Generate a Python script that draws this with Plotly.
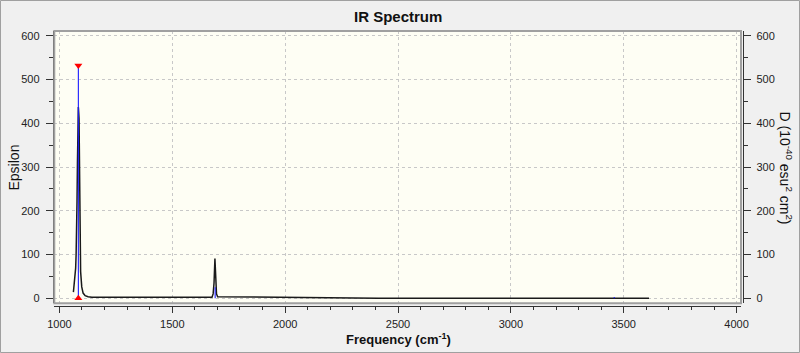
import plotly.graph_objects as go

# Broadened spectrum (epsilon)
curve_freq = [1062, 1072, 1074, 1076, 1078, 1080, 1082, 1084, 1086, 1087, 1089, 1091, 1092, 1094,
              1099, 1105, 1114, 1127, 1144, 1676, 1681, 1685, 1689, 1692, 1696, 1701,
              1948, 1950, 2410, 2413, 3612]
curve_eps = [14, 69, 100, 137, 220, 312, 380, 437, 420, 411, 330, 275, 120, 61,
             26, 12, 6, 3.5, 2.5, 2.5, 10, 35, 91, 40, 10, 3.5,
             2.8, 1.2, 1.0, 0.3, 0.3]

# Stick intensities (D, 10^-40 esu^2 cm^2)
stick_freq = [1084, 1690, 3458]
stick_d = [532, 25, 3]

# Selected peak marker
sel_freq = 1084
sel_d = 532

x_ticks = [1000, 1500, 2000, 2500, 3000, 3500, 4000]
y_ticks = [0, 100, 200, 300, 400, 500, 600]

W, H = 800, 353
tick_font = dict(family="Liberation Sans Narrow, Arial Narrow, Liberation Sans, Arial, sans-serif",
                 size=11, color="#222222")

sx, sy = [], []
for f, d in zip(stick_freq, stick_d):
    sx += [f, f, None]
    sy += [0, d, None]

fig = go.Figure()
fig.add_trace(go.Scatter(x=curve_freq, y=curve_eps, mode="lines",
                         line=dict(color="#1a1a1a", width=1.5), hoverinfo="skip",
                         showlegend=False))
fig.add_trace(go.Scatter(x=sx, y=sy, mode="lines", yaxis="y2",
                         line=dict(color="#1a1aff", width=1.1), showlegend=False))
fig.add_trace(go.Scatter(x=[sel_freq], y=[sel_d], mode="markers", yaxis="y2",
                         marker=dict(symbol="triangle-down", size=7, color="#ff0000"),
                         showlegend=False))
fig.add_trace(go.Scatter(x=[sel_freq], y=[0], mode="markers", yaxis="y2",
                         marker=dict(symbol="triangle-up", size=7, color="#ff0000"),
                         showlegend=False))

box_l, box_r = 54.3, 741.0
box_t, box_b = 31.0, 303.3
xr = [977.4, 4019.5]
yr = [-11.4, 610.7]

fig.update_layout(
    width=W, height=H,
    margin=dict(l=0, r=0, t=0, b=0, pad=0, autoexpand=False),
    paper_bgcolor="#f0f0f0",
    plot_bgcolor="#fefef4",
    xaxis=dict(domain=[box_l / W, box_r / W], range=xr, anchor="free",
               position=(H - 305.5) / H, automargin=False,
               tickvals=x_ticks, ticks="outside", ticklen=6, tickcolor="#333333",
               tickwidth=1, ticklabelstandoff=2,
               minor=dict(dtick=100, tick0=1000, ticks="outside", ticklen=3,
                          tickcolor="#333333", showgrid=False),
               showline=True, linecolor="#333333", linewidth=1,
               showgrid=True, gridcolor="#c8c8c8", griddash="dot", gridwidth=1,
               zeroline=False, tickfont=tick_font),
    yaxis=dict(domain=[(H - box_b) / H, (H - box_t) / H], range=yr, anchor="free",
               position=52.7 / W, automargin=False,
               tickvals=y_ticks, ticks="outside", ticklen=7, tickcolor="#333333",
               ticklabelstandoff=4,
               minor=dict(dtick=50, tick0=0, ticks="outside", ticklen=4,
                          tickcolor="#333333", showgrid=False),
               showline=True, linecolor="#333333", linewidth=1,
               showgrid=True, gridcolor="#c8c8c8", griddash="dot", gridwidth=1,
               zeroline=False, tickfont=tick_font),
    yaxis2=dict(overlaying="y", side="right", range=yr, anchor="free",
                position=743.3 / W, automargin=False,
                tickvals=y_ticks, ticks="outside", ticklen=7, tickcolor="#333333",
                ticklabelstandoff=3,
                minor=dict(dtick=50, tick0=0, ticks="outside", ticklen=4,
                           tickcolor="#333333", showgrid=False),
                showline=True, linecolor="#333333", linewidth=1,
                showgrid=False, zeroline=False, tickfont=tick_font),
    shapes=[
        dict(type="rect", xref="x domain", yref="y domain", x0=0, x1=1, y0=0, y1=1,
             line=dict(color="#a0a0a0", width=2), layer="above"),
        dict(type="rect", xref="paper", yref="paper", x0=0.5 / W, x1=1 - 0.5 / W,
             y0=0.5 / H, y1=1 - 0.5 / H, line=dict(color="#a0a0a0", width=1)),
    ],
    annotations=[
        dict(text="<b>IR Spectrum</b>", x=397.5 / W, y=(H - 16) / H, xref="paper", yref="paper",
             showarrow=False, xanchor="center", yanchor="middle",
             font=dict(family="Liberation Sans, Arial, sans-serif", size=15, color="#111111")),
        dict(text="<b>Frequency (cm<sup>-1</sup>)</b>", x=398.5 / W, y=(H - 339) / H,
             xref="paper", yref="paper", showarrow=False, xanchor="center", yanchor="middle",
             font=dict(family="Liberation Sans, Arial, sans-serif", size=13, color="#111111")),
        dict(text="Epsilon", x=13 / W, y=(H - 167.5) / H, xref="paper", yref="paper",
             showarrow=False, xanchor="center", yanchor="middle", textangle=-90,
             font=dict(family="Liberation Sans, Arial, sans-serif", size=14, color="#111111")),
        dict(text="D (10<sup>-40</sup> esu<sup>2</sup> cm<sup>2</sup>)", x=786 / W,
             y=(H - 167.5) / H, xref="paper", yref="paper",
             showarrow=False, xanchor="center", yanchor="middle", textangle=90,
             font=dict(family="Liberation Sans, Arial, sans-serif", size=14, color="#111111")),
    ],
)

fig.write_html("out.html")
